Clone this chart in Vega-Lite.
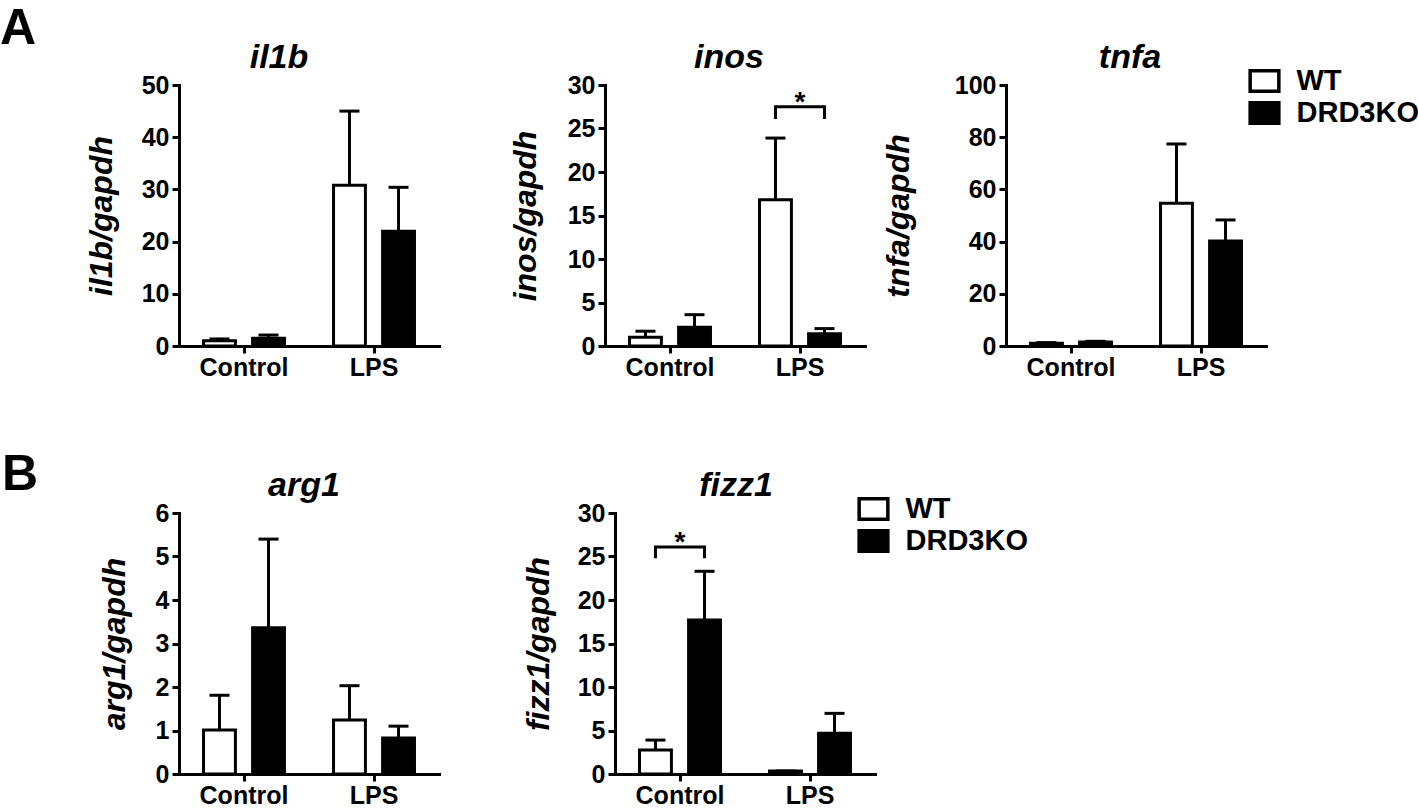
{
  "$schema": "https://vega.github.io/schema/vega-lite/v6.json",
  "background": "white",
  "padding": {"left": 0, "top": 3, "right": 0, "bottom": 0},
  "datasets": {
    "bars": [
      {"gene": "il1b", "cond": "Control", "geno": "WT", "mean": 1.0, "upper": 1.35},
      {"gene": "il1b", "cond": "Control", "geno": "DRD3KO", "mean": 1.5, "upper": 2.1},
      {"gene": "il1b", "cond": "LPS", "geno": "WT", "mean": 30.8, "upper": 45.0},
      {"gene": "il1b", "cond": "LPS", "geno": "DRD3KO", "mean": 22.0, "upper": 30.4},
      {"gene": "inos", "cond": "Control", "geno": "WT", "mean": 1.0, "upper": 1.7},
      {"gene": "inos", "cond": "Control", "geno": "DRD3KO", "mean": 2.15, "upper": 3.6},
      {"gene": "inos", "cond": "LPS", "geno": "WT", "mean": 16.8, "upper": 23.9},
      {"gene": "inos", "cond": "LPS", "geno": "DRD3KO", "mean": 1.4, "upper": 2.0},
      {"gene": "tnfa", "cond": "Control", "geno": "WT", "mean": 1.1, "upper": 1.3},
      {"gene": "tnfa", "cond": "Control", "geno": "DRD3KO", "mean": 1.5, "upper": 1.8},
      {"gene": "tnfa", "cond": "LPS", "geno": "WT", "mean": 54.7, "upper": 77.4},
      {"gene": "tnfa", "cond": "LPS", "geno": "DRD3KO", "mean": 40.2, "upper": 48.3},
      {"gene": "arg1", "cond": "Control", "geno": "WT", "mean": 1.01, "upper": 1.81},
      {"gene": "arg1", "cond": "Control", "geno": "DRD3KO", "mean": 3.36, "upper": 5.4},
      {"gene": "arg1", "cond": "LPS", "geno": "WT", "mean": 1.24, "upper": 2.03},
      {"gene": "arg1", "cond": "LPS", "geno": "DRD3KO", "mean": 0.83, "upper": 1.1},
      {"gene": "fizz1", "cond": "Control", "geno": "WT", "mean": 2.76, "upper": 3.9},
      {"gene": "fizz1", "cond": "Control", "geno": "DRD3KO", "mean": 17.7, "upper": 23.3},
      {"gene": "fizz1", "cond": "LPS", "geno": "WT", "mean": 0.34, "upper": 0.34},
      {"gene": "fizz1", "cond": "LPS", "geno": "DRD3KO", "mean": 4.67, "upper": 6.97}
    ],
    "brackets": [
      {"gene": "inos", "cond": "LPS", "geno": "WT", "y": 26.1, "ord": 1},
      {"gene": "inos", "cond": "LPS", "geno": "WT", "y": 27.5, "ord": 2},
      {"gene": "inos", "cond": "LPS", "geno": "DRD3KO", "y": 27.5, "ord": 3},
      {"gene": "inos", "cond": "LPS", "geno": "DRD3KO", "y": 26.1, "ord": 4},
      {"gene": "fizz1", "cond": "Control", "geno": "WT", "y": 24.8, "ord": 1},
      {"gene": "fizz1", "cond": "Control", "geno": "WT", "y": 26.1, "ord": 2},
      {"gene": "fizz1", "cond": "Control", "geno": "DRD3KO", "y": 26.1, "ord": 3},
      {"gene": "fizz1", "cond": "Control", "geno": "DRD3KO", "y": 24.8, "ord": 4}
    ],
    "stars": [
      {"gene": "inos", "cond": "LPS", "y": 27.5, "label": "*"},
      {"gene": "fizz1", "cond": "Control", "y": 26.1, "label": "*"}
    ]
  },
  "config": {
    "view": {"stroke": null},
    "font": "Liberation Sans",
    "axis": {
      "domainColor": "black", "domainWidth": 3, "domainCap": "square",
      "tickColor": "black", "tickWidth": 3, "tickSize": 7,
      "labelFont": "Liberation Sans", "labelFontSize": 25, "labelFontWeight": "bold", "labelColor": "black",
      "grid": false,
      "titleFont": "Liberation Sans", "titleFontSize": 32, "titleFontWeight": "bold", "titleFontStyle": "italic", "titleColor": "black"
    },
    "axisX": {"labelPadding": 2, "labelAngle": 0},
    "axisY": {"labelPadding": 3},
    "title": {
      "font": "Liberation Sans", "fontSize": 34, "fontWeight": "bold", "fontStyle": "italic", "color": "black",
      "baseline": "alphabetic", "offset": -1.5, "anchor": "middle", "frame": "group"
    }
  },
  "spacing": 69,
  "resolve": {"legend": {"fill": "independent"}},
  "vconcat": [
    {
      "title": {"text": "A", "anchor": "start", "frame": "group", "dx": -179, "fontSize": 50, "fontStyle": "normal", "fontWeight": "bold", "offset": -53, "baseline": "alphabetic"},
      "spacing": 17,
      "resolve": {"legend": {"fill": "independent"}},
      "hconcat": [
        {
          "spacing": 70,
          "resolve": {"legend": {"fill": "independent"}},
          "hconcat": [
            {
              "width": 260, "height": 261,
              "title": {"text": "il1b", "dx": -30},
              "layer": [
                {"data": {"name": "bars"}, "transform": [{"filter": "datum.gene === 'il1b'"}],
                 "mark": {"type": "bar", "stroke": "black", "strokeWidth": 3},
                 "encoding": {
                   "x": {"field": "cond", "type": "nominal", "scale": {"domain": ["Control", "LPS"], "paddingInner": 0, "paddingOuter": 0}, "axis": {"title": null}},
                   "xOffset": {"field": "geno", "type": "nominal", "scale": {"domain": ["WT", "DRD3KO"], "paddingInner": 0.35, "paddingOuter": 0.5}},
                   "y": {"field": "mean", "type": "quantitative", "scale": {"domain": [0, 50], "nice": false}, "axis": {"values": [0, 10, 20, 30, 40, 50], "title": "il1b/gapdh", "titlePadding": 23}},
                   "fill": {"field": "geno", "type": "nominal", "scale": {"domain": ["WT", "DRD3KO"], "range": ["white", "black"]}, "legend": null}
                 }},
                {"data": {"name": "bars"}, "transform": [{"filter": "datum.gene === 'il1b'"}],
                 "mark": {"type": "rule", "strokeWidth": 3, "color": "black"},
                 "encoding": {
                   "x": {"field": "cond", "type": "nominal"},
                   "xOffset": {"field": "geno", "type": "nominal"},
                   "y": {"field": "mean", "type": "quantitative"},
                   "y2": {"field": "upper"}
                 }},
                {"data": {"name": "bars"}, "transform": [{"filter": "datum.gene === 'il1b'"}],
                 "mark": {"type": "tick", "size": 20, "thickness": 3, "color": "black", "opacity": 1},
                 "encoding": {
                   "x": {"field": "cond", "type": "nominal"},
                   "xOffset": {"field": "geno", "type": "nominal"},
                   "y": {"field": "upper", "type": "quantitative"}
                 }}
              ]
            },
            {
              "width": 260, "height": 261,
              "title": {"text": "inos", "dx": -6},
              "layer": [
                {"data": {"name": "bars"}, "transform": [{"filter": "datum.gene === 'inos'"}],
                 "mark": {"type": "bar", "stroke": "black", "strokeWidth": 3},
                 "encoding": {
                   "x": {"field": "cond", "type": "nominal", "scale": {"domain": ["Control", "LPS"], "paddingInner": 0, "paddingOuter": 0}, "axis": {"title": null}},
                   "xOffset": {"field": "geno", "type": "nominal", "scale": {"domain": ["WT", "DRD3KO"], "paddingInner": 0.35, "paddingOuter": 0.5}},
                   "y": {"field": "mean", "type": "quantitative", "scale": {"domain": [0, 30], "nice": false}, "axis": {"values": [0, 5, 10, 15, 20, 25, 30], "title": "inos/gapdh", "titlePadding": 25}},
                   "fill": {"field": "geno", "type": "nominal", "scale": {"domain": ["WT", "DRD3KO"], "range": ["white", "black"]}, "legend": null}
                 }},
                {"data": {"name": "bars"}, "transform": [{"filter": "datum.gene === 'inos'"}],
                 "mark": {"type": "rule", "strokeWidth": 3, "color": "black"},
                 "encoding": {
                   "x": {"field": "cond", "type": "nominal"},
                   "xOffset": {"field": "geno", "type": "nominal"},
                   "y": {"field": "mean", "type": "quantitative"},
                   "y2": {"field": "upper"}
                 }},
                {"data": {"name": "bars"}, "transform": [{"filter": "datum.gene === 'inos'"}],
                 "mark": {"type": "tick", "size": 20, "thickness": 3, "color": "black", "opacity": 1},
                 "encoding": {
                   "x": {"field": "cond", "type": "nominal"},
                   "xOffset": {"field": "geno", "type": "nominal"},
                   "y": {"field": "upper", "type": "quantitative"}
                 }},
                {"data": {"name": "brackets"}, "transform": [{"filter": "datum.gene === 'inos'"}],
                 "mark": {"type": "line", "color": "black", "strokeWidth": 3, "strokeCap": "butt", "strokeJoin": "miter"},
                 "encoding": {
                   "x": {"field": "cond", "type": "nominal"},
                   "xOffset": {"field": "geno", "type": "nominal"},
                   "y": {"field": "y", "type": "quantitative"},
                   "order": {"field": "ord", "type": "quantitative"}
                 }},
                {"data": {"name": "stars"}, "transform": [{"filter": "datum.gene === 'inos'"}],
                 "mark": {"type": "text", "fontSize": 28, "fontWeight": "bold", "font": "Liberation Sans", "baseline": "alphabetic", "dy": 4, "color": "black"},
                 "encoding": {
                   "x": {"field": "cond", "type": "nominal"},
                   "y": {"field": "y", "type": "quantitative"},
                   "text": {"field": "label"}
                 }}
              ]
            }
          ]
        },
        {
          "width": 260, "height": 261,
          "title": {"text": "tnfa", "dx": -6, "offset": -8.5},
          "layer": [
            {"data": {"name": "bars"}, "transform": [{"filter": "datum.gene === 'tnfa'"}],
             "mark": {"type": "bar", "stroke": "black", "strokeWidth": 3},
             "encoding": {
               "x": {"field": "cond", "type": "nominal", "scale": {"domain": ["Control", "LPS"], "paddingInner": 0, "paddingOuter": 0}, "axis": {"title": null}},
               "xOffset": {"field": "geno", "type": "nominal", "scale": {"domain": ["WT", "DRD3KO"], "paddingInner": 0.35, "paddingOuter": 0.5}},
               "y": {"field": "mean", "type": "quantitative", "scale": {"domain": [0, 100], "nice": false}, "axis": {"values": [0, 20, 40, 60, 80, 100], "title": "tnfa/gapdh", "titlePadding": 39}},
               "fill": {"field": "geno", "type": "nominal", "scale": {"domain": ["WT", "DRD3KO"], "range": ["white", "black"]},
                        "legend": {"orient": "none", "legendX": 244, "legendY": -18.5, "title": null, "padding": 0,
                                   "symbolType": "M-1.4,-1H1.4V1H-1.4Z", "symbolSize": 420, "symbolStrokeColor": "black", "symbolStrokeWidth": 3.5, "symbolOpacity": 1,
                                   "labelFont": "Liberation Sans", "labelFontSize": 29, "labelFontWeight": "bold", "labelColor": "black",
                                   "labelOffset": 17.5, "rowPadding": -3}}
             }},
            {"data": {"name": "bars"}, "transform": [{"filter": "datum.gene === 'tnfa'"}],
             "mark": {"type": "rule", "strokeWidth": 3, "color": "black"},
             "encoding": {
               "x": {"field": "cond", "type": "nominal"},
               "xOffset": {"field": "geno", "type": "nominal"},
               "y": {"field": "mean", "type": "quantitative"},
               "y2": {"field": "upper"}
             }},
            {"data": {"name": "bars"}, "transform": [{"filter": "datum.gene === 'tnfa'"}],
             "mark": {"type": "tick", "size": 20, "thickness": 3, "color": "black", "opacity": 1},
             "encoding": {
               "x": {"field": "cond", "type": "nominal"},
               "xOffset": {"field": "geno", "type": "nominal"},
               "y": {"field": "upper", "type": "quantitative"}
             }}
          ]
        }
      ]
    },
    {
      "title": {"text": "B", "anchor": "start", "frame": "group", "dx": -177, "fontSize": 50, "fontStyle": "normal", "fontWeight": "bold", "offset": -71, "baseline": "alphabetic"},
      "spacing": 83,
      "resolve": {"legend": {"fill": "independent"}},
      "hconcat": [
        {
          "width": 260, "height": 261,
          "title": {"text": "arg1", "dx": -5},
          "layer": [
            {"data": {"name": "bars"}, "transform": [{"filter": "datum.gene === 'arg1'"}],
             "mark": {"type": "bar", "stroke": "black", "strokeWidth": 3},
             "encoding": {
               "x": {"field": "cond", "type": "nominal", "scale": {"domain": ["Control", "LPS"], "paddingInner": 0, "paddingOuter": 0}, "axis": {"title": null}},
               "xOffset": {"field": "geno", "type": "nominal", "scale": {"domain": ["WT", "DRD3KO"], "paddingInner": 0.35, "paddingOuter": 0.5}},
               "y": {"field": "mean", "type": "quantitative", "scale": {"domain": [0, 6], "nice": false}, "axis": {"values": [0, 1, 2, 3, 4, 5, 6], "title": "arg1/gapdh", "titlePadding": 24}},
               "fill": {"field": "geno", "type": "nominal", "scale": {"domain": ["WT", "DRD3KO"], "range": ["white", "black"]}, "legend": null}
             }},
            {"data": {"name": "bars"}, "transform": [{"filter": "datum.gene === 'arg1'"}],
             "mark": {"type": "rule", "strokeWidth": 3, "color": "black"},
             "encoding": {
               "x": {"field": "cond", "type": "nominal"},
               "xOffset": {"field": "geno", "type": "nominal"},
               "y": {"field": "mean", "type": "quantitative"},
               "y2": {"field": "upper"}
             }},
            {"data": {"name": "bars"}, "transform": [{"filter": "datum.gene === 'arg1'"}],
             "mark": {"type": "tick", "size": 20, "thickness": 3, "color": "black", "opacity": 1},
             "encoding": {
               "x": {"field": "cond", "type": "nominal"},
               "xOffset": {"field": "geno", "type": "nominal"},
               "y": {"field": "upper", "type": "quantitative"}
             }}
          ]
        },
        {
          "width": 260, "height": 261,
          "title": {"text": "fizz1", "dx": -9, "offset": -8.5},
          "layer": [
            {"data": {"name": "bars"}, "transform": [{"filter": "datum.gene === 'fizz1'"}],
             "mark": {"type": "bar", "stroke": "black", "strokeWidth": 3},
             "encoding": {
               "x": {"field": "cond", "type": "nominal", "scale": {"domain": ["Control", "LPS"], "paddingInner": 0, "paddingOuter": 0}, "axis": {"title": null}},
               "xOffset": {"field": "geno", "type": "nominal", "scale": {"domain": ["WT", "DRD3KO"], "paddingInner": 0.35, "paddingOuter": 0.5}},
               "y": {"field": "mean", "type": "quantitative", "scale": {"domain": [0, 30], "nice": false}, "axis": {"values": [0, 5, 10, 15, 20, 25, 30], "title": "fizz1/gapdh", "titlePadding": 22}},
               "fill": {"field": "geno", "type": "nominal", "scale": {"domain": ["WT", "DRD3KO"], "range": ["white", "black"]},
                        "legend": {"orient": "none", "legendX": 244, "legendY": -18.5, "title": null, "padding": 0,
                                   "symbolType": "M-1.4,-1H1.4V1H-1.4Z", "symbolSize": 420, "symbolStrokeColor": "black", "symbolStrokeWidth": 3.5, "symbolOpacity": 1,
                                   "labelFont": "Liberation Sans", "labelFontSize": 29, "labelFontWeight": "bold", "labelColor": "black",
                                   "labelOffset": 17.5, "rowPadding": -3}}
             }},
            {"data": {"name": "bars"}, "transform": [{"filter": "datum.gene === 'fizz1'"}],
             "mark": {"type": "rule", "strokeWidth": 3, "color": "black"},
             "encoding": {
               "x": {"field": "cond", "type": "nominal"},
               "xOffset": {"field": "geno", "type": "nominal"},
               "y": {"field": "mean", "type": "quantitative"},
               "y2": {"field": "upper"}
             }},
            {"data": {"name": "bars"}, "transform": [{"filter": "datum.gene === 'fizz1'"}],
             "mark": {"type": "tick", "size": 20, "thickness": 3, "color": "black", "opacity": 1},
             "encoding": {
               "x": {"field": "cond", "type": "nominal"},
               "xOffset": {"field": "geno", "type": "nominal"},
               "y": {"field": "upper", "type": "quantitative"}
             }},
            {"data": {"name": "brackets"}, "transform": [{"filter": "datum.gene === 'fizz1'"}],
             "mark": {"type": "line", "color": "black", "strokeWidth": 3, "strokeCap": "butt", "strokeJoin": "miter"},
             "encoding": {
               "x": {"field": "cond", "type": "nominal"},
               "xOffset": {"field": "geno", "type": "nominal"},
               "y": {"field": "y", "type": "quantitative"},
               "order": {"field": "ord", "type": "quantitative"}
             }},
            {"data": {"name": "stars"}, "transform": [{"filter": "datum.gene === 'fizz1'"}],
             "mark": {"type": "text", "fontSize": 28, "fontWeight": "bold", "font": "Liberation Sans", "baseline": "alphabetic", "dy": 4, "color": "black"},
             "encoding": {
               "x": {"field": "cond", "type": "nominal"},
               "y": {"field": "y", "type": "quantitative"},
               "text": {"field": "label"}
             }}
          ]
        }
      ]
    }
  ]
}
